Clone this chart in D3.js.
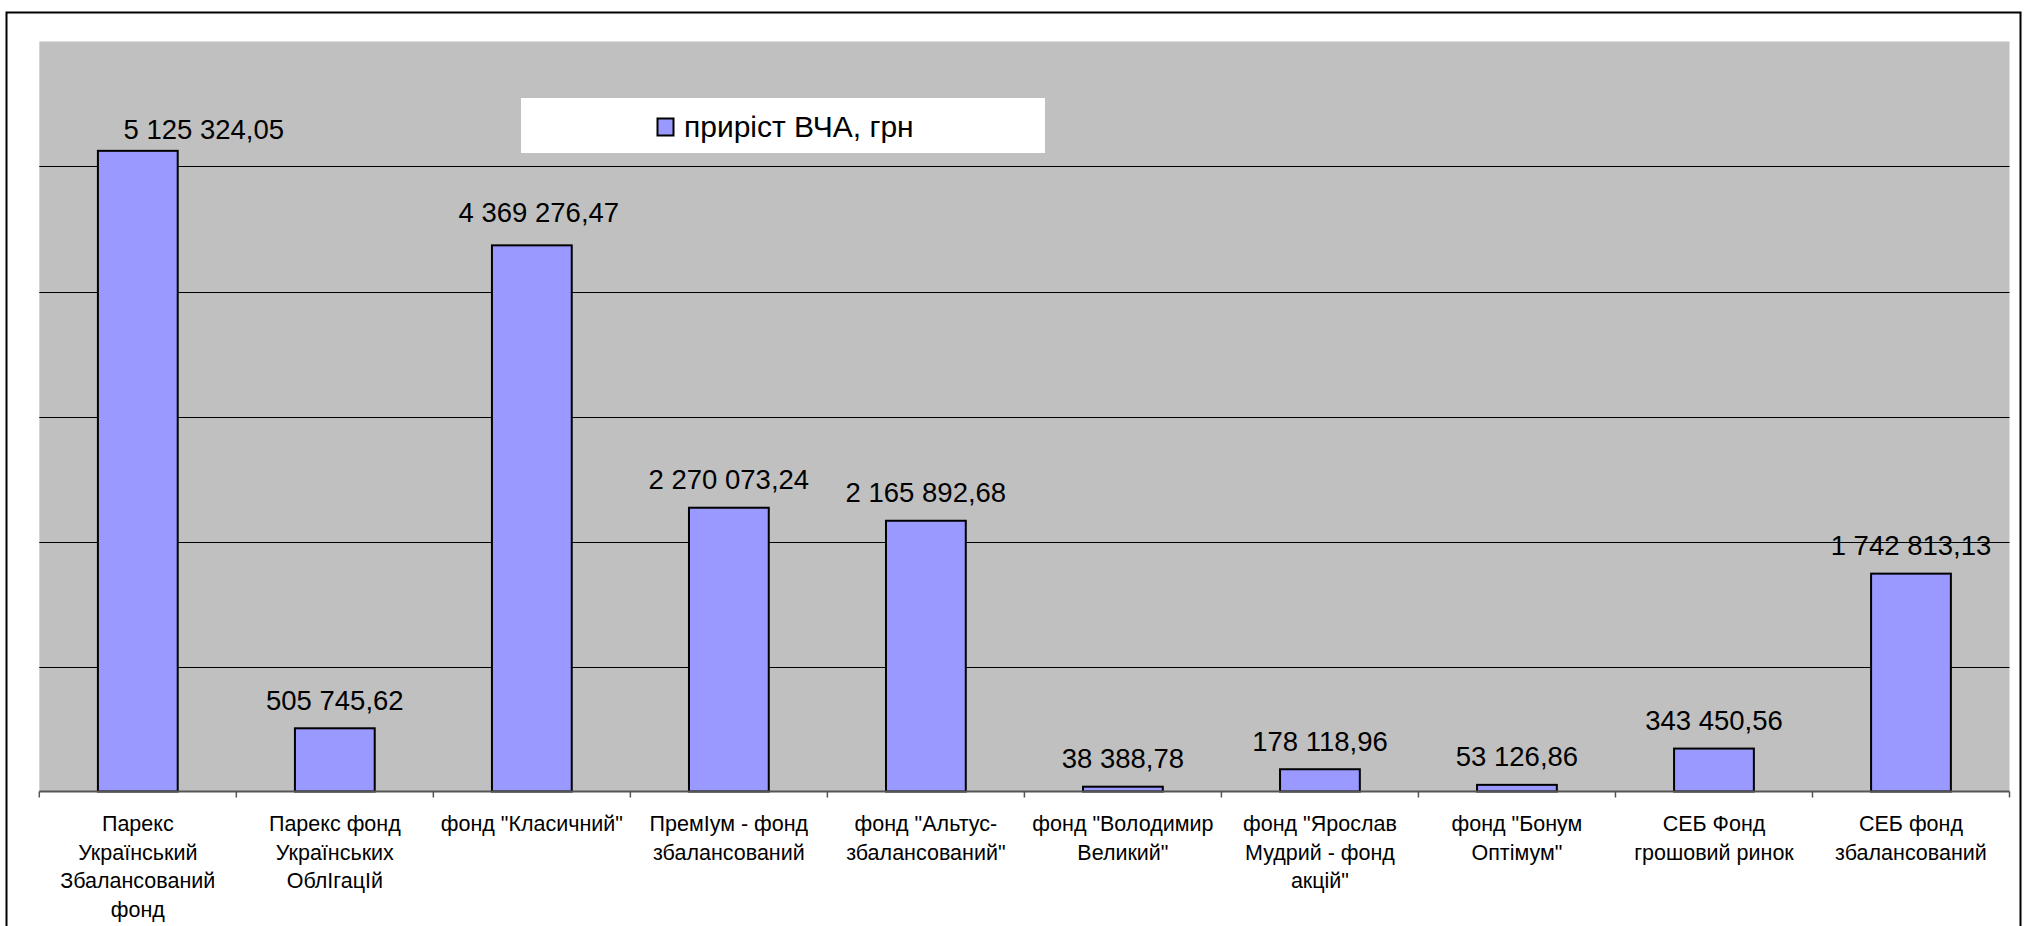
<!DOCTYPE html>
<html>
<head>
<meta charset="utf-8">
<script src="https://cdn.jsdelivr.net/npm/d3@7"></script>
<style>
  body { margin: 0; background: #fff; }
  text { font-family: Arial, "Liberation Sans", sans-serif; fill: #000; }
</style>
</head>
<body>
<div class="chart"></div>
<script>
// categories (line breaks as in the picture)
var categories = [
  "Парекс\nУкраїнський\nЗбалансований\nфонд",
  "Парекс фонд\nУкраїнських\nОблIгацIй",
  "фонд \"Класичний\"",
  "ПремIум - фонд\nзбалансований",
  "фонд \"Альтус-\nзбалансований\"",
  "фонд \"Володимир\nВеликий\"",
  "фонд \"Ярослав\nМудрий - фонд\nакцій\"",
  "фонд \"Бонум\nОптімум\"",
  "СЕБ Фонд\nгрошовий ринок",
  "СЕБ фонд\nзбалансований"
];

var values = [5125324.05, 505745.62, 4369276.47, 2270073.24, 2165892.68,
              38388.78, 178118.96, 53126.86, 343450.56, 1742813.13];

var seriesName = "приріст ВЧА, грн";
var yTicks = [0, 1000000, 2000000, 3000000, 4000000, 5000000, 6000000];

// some labels were dragged by hand in the original
var labelNudge = [[66, 6.5], [0, 0], [7, -4.5], [0, 0], [0, 0],
                  [0, 0], [0, 0], [0, 0], [0, 0], [0, 0]];

var W = 2024, H = 926;
var plot = {left: 39.3, right: 2009.5, top: 41.5, bottom: 791.5};

var svg = d3.select(".chart").append("svg")
    .attr("width", W)
    .attr("height", H);

// outer chart border
svg.append("rect")
    .attr("x", 6.5).attr("y", 12.5)
    .attr("width", 2014).attr("height", 950)
    .attr("fill", "#fff")
    .attr("stroke", "#000")
    .attr("stroke-width", 2);

var x = d3.scaleBand()
    .domain(d3.range(categories.length))
    .range([plot.left, plot.right]);

var y = d3.scaleLinear()
    .domain([0, 6000000])
    .range([plot.bottom, plot.top]);

svg.append("rect")
    .attr("x", plot.left)
    .attr("y", plot.top)
    .attr("width", plot.right - plot.left)
    .attr("height", plot.bottom - plot.top)
    .attr("fill", "#C0C0C0");

// gridlines
svg.selectAll(".grid")
    .data(yTicks.filter(function(d) { return d > 0 && d < 6000000; }))
    .enter().append("line")
    .attr("class", "grid")
    .attr("x1", plot.left).attr("x2", plot.right)
    .attr("y1", function(d) { return Math.round(y(d)) + 0.5; })
    .attr("y2", function(d) { return Math.round(y(d)) + 0.5; })
    .attr("stroke", "#000")
    .attr("stroke-width", 1);

// bars
var barW = x.bandwidth() * 0.405;
svg.selectAll(".bar")
    .data(values)
    .enter().append("rect")
    .attr("class", "bar")
    .attr("x", function(d, i) { return x(i) + (x.bandwidth() - barW) / 2; })
    .attr("y", function(d) { return y(d); })
    .attr("width", barW)
    .attr("height", function(d) { return y(0) - y(d); })
    .attr("fill", "#9999FF")
    .attr("stroke", "#000")
    .attr("stroke-width", 2);

// category axis
var edges = d3.range(categories.length).map(function(i) { return x(i); }).concat([plot.right]);
svg.append("line")
    .attr("x1", plot.left).attr("x2", plot.right)
    .attr("y1", plot.bottom).attr("y2", plot.bottom)
    .attr("stroke", "#555")
    .attr("stroke-width", 2);
svg.selectAll(".tick")
    .data(edges)
    .enter().append("line")
    .attr("class", "tick")
    .attr("x1", function(d) { return d; })
    .attr("x2", function(d) { return d; })
    .attr("y1", plot.bottom)
    .attr("y2", plot.bottom + 6)
    .attr("stroke", "#555")
    .attr("stroke-width", 1.5);

var catText = svg.selectAll(".cat")
    .data(categories)
    .enter().append("text")
    .attr("class", "cat")
    .attr("text-anchor", "middle")
    .attr("font-size", 21.5)
    .attr("y", 831);
catText.selectAll("tspan")
    .data(function(d, i) { return d.split("\n").map(function(s) { return {s: s, i: i}; }); })
    .enter().append("tspan")
    .attr("x", function(d) { return x(d.i) + x.bandwidth() / 2; })
    .attr("dy", function(d, j) { return j === 0 ? 0 : 28.5; })
    .text(function(d) { return d.s; });

// value labels
var locale = d3.formatLocale({decimal: ",", thousands: " ", grouping: [3], currency: ["", ""]});
var fmt = locale.format(",.2f");
svg.selectAll(".val")
    .data(values)
    .enter().append("text")
    .attr("class", "val")
    .attr("text-anchor", "middle")
    .attr("font-size", 27.5)
    .attr("x", function(d, i) { return x(i) + x.bandwidth() / 2 + labelNudge[i][0]; })
    .attr("y", function(d, i) { return y(d) - 18.5 + labelNudge[i][1]; })
    .text(function(d) { return fmt(d); });

// legend
var legend = svg.append("g");
legend.append("rect")
    .attr("x", 521).attr("y", 98)
    .attr("width", 524).attr("height", 55)
    .attr("fill", "#fff");
legend.append("rect")
    .attr("x", 657.5).attr("y", 118.5)
    .attr("width", 16).attr("height", 17)
    .attr("fill", "#9999FF")
    .attr("stroke", "#000")
    .attr("stroke-width", 2);
legend.append("text")
    .attr("x", 684).attr("y", 136.5)
    .attr("font-size", 30)
    .text(seriesName);
</script>
</body>
</html>
